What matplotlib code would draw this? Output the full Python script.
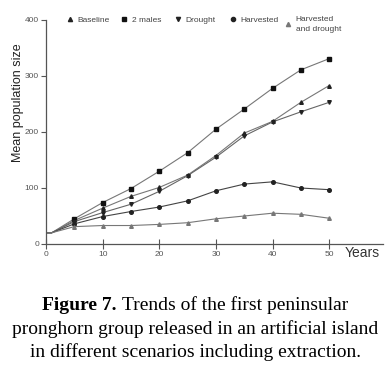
import matplotlib
matplotlib.use("Agg")
import matplotlib.pyplot as plt
from matplotlib.lines import Line2D

years = [0, 1, 5, 10, 15, 20, 25, 30, 35, 40, 45, 50]
baseline = [20, 20, 42, 64, 85, 101, 123, 158, 198, 219, 253, 283]
two_males = [20, 20, 45, 74, 99, 130, 163, 205, 241, 278, 311, 331]
drought = [20, 20, 40, 56, 71, 94, 122, 155, 193, 218, 236, 253]
harvested = [20, 20, 36, 49, 58, 66, 77, 95, 107, 111, 100, 97]
harv_drought = [20, 20, 31, 33, 33, 35, 38, 45, 50, 55, 53, 46]

series = [
    ("Baseline", baseline, "^", "#222222", "#777777"),
    ("2 males", two_males, "s", "#111111", "#777777"),
    ("Drought", drought, "v", "#222222", "#666666"),
    ("Harvested", harvested, "o", "#222222", "#444444"),
    ("Harvested\nand drought", harv_drought, "^", "#777777", "#777777"),
]
xticks = [0, 10, 20, 30, 40, 50]
yticks = [0, 100, 200, 300, 400]

plt.rcParams["font.family"] = ["Liberation Sans", "DejaVu Sans"]
fig = plt.figure(figsize=(3.9, 3.71), dpi=100)
ax = fig.add_axes([46/390, 1-244/371, (383-46)/390, (244-20)/371])

for name, vals, mk, mc, lc in series:
    ax.plot(years, vals, color=lc, lw=0.8, marker=mk, markersize=2.6,
            markerfacecolor=mc, markeredgecolor=mc, markevery=list(range(2, len(years))))

ax.set_xlim(0, 59.5)
ax.set_ylim(0, 400)
ax.set_xticks(xticks)
ax.set_yticks(yticks)
for s in ["top", "right"]:
    ax.spines[s].set_visible(False)
for s in ["left", "bottom"]:
    ax.spines[s].set_color("#555555")
    ax.spines[s].set_linewidth(0.9)
ax.tick_params(axis="x", direction="inout", length=7, width=0.8, colors="#555555",
               labelsize=6, labelcolor="#555555", pad=1.5)
ax.tick_params(axis="y", direction="out", length=3.5, width=0.8, colors="#555555",
               labelsize=6, labelcolor="#555555", pad=1.5)

fig.text(18/390, 1-103/371, "Mean population size", rotation=90, ha="center", va="center",
         fontsize=9, color="#222222")
fig.text(345/390, 1-253/371, "Years", ha="left", va="center", fontsize=10, color="#333333")

# legend: one entry per legend, evenly spaced like the original
legend_x = [67, 121, 175, 230, 285]
for (label, _, mk, mc, _), lx in zip(series, legend_x):
    h = Line2D([], [], ls="none", marker=mk, markersize=3, markerfacecolor=mc,
               markeredgecolor=mc)
    leg = fig.legend([h], [label], loc="upper left", bbox_to_anchor=(lx/390, 1-16/371),
                     frameon=False, fontsize=6, handlelength=0.8, handletextpad=0.5,
                     labelcolor="#444444", borderaxespad=0, borderpad=0)
    for t in leg.get_texts():
        t.set_linespacing(1.6)

# caption
serif = ["Liberation Serif", "DejaVu Serif"]
fs = 14
fig.canvas.draw()
r = fig.canvas.get_renderer()
t1 = fig.text(0, 0, "Figure 7. ", fontsize=fs, family=serif, weight="bold")
t2 = fig.text(0, 0, "Trends of the first peninsular", fontsize=fs, family=serif)
w1 = t1.get_window_extent(r).width
w2 = t2.get_window_extent(r).width
W = fig.bbox.width
x0 = (W - w1 - w2) / 2 / W
y1 = 1 - 305/371
t1.set_position((x0, y1)); t1.set_va("center")
t2.set_position((x0 + w1 / W, y1)); t2.set_va("center")
fig.text(0.5, 1-329/371, "pronghorn group released in an artificial island", fontsize=fs,
         family=serif, ha="center", va="center")
fig.text(0.5, 1-352/371, "in different scenarios including extraction.", fontsize=fs,
         family=serif, ha="center", va="center")

fig.savefig("out.png", dpi=100)
